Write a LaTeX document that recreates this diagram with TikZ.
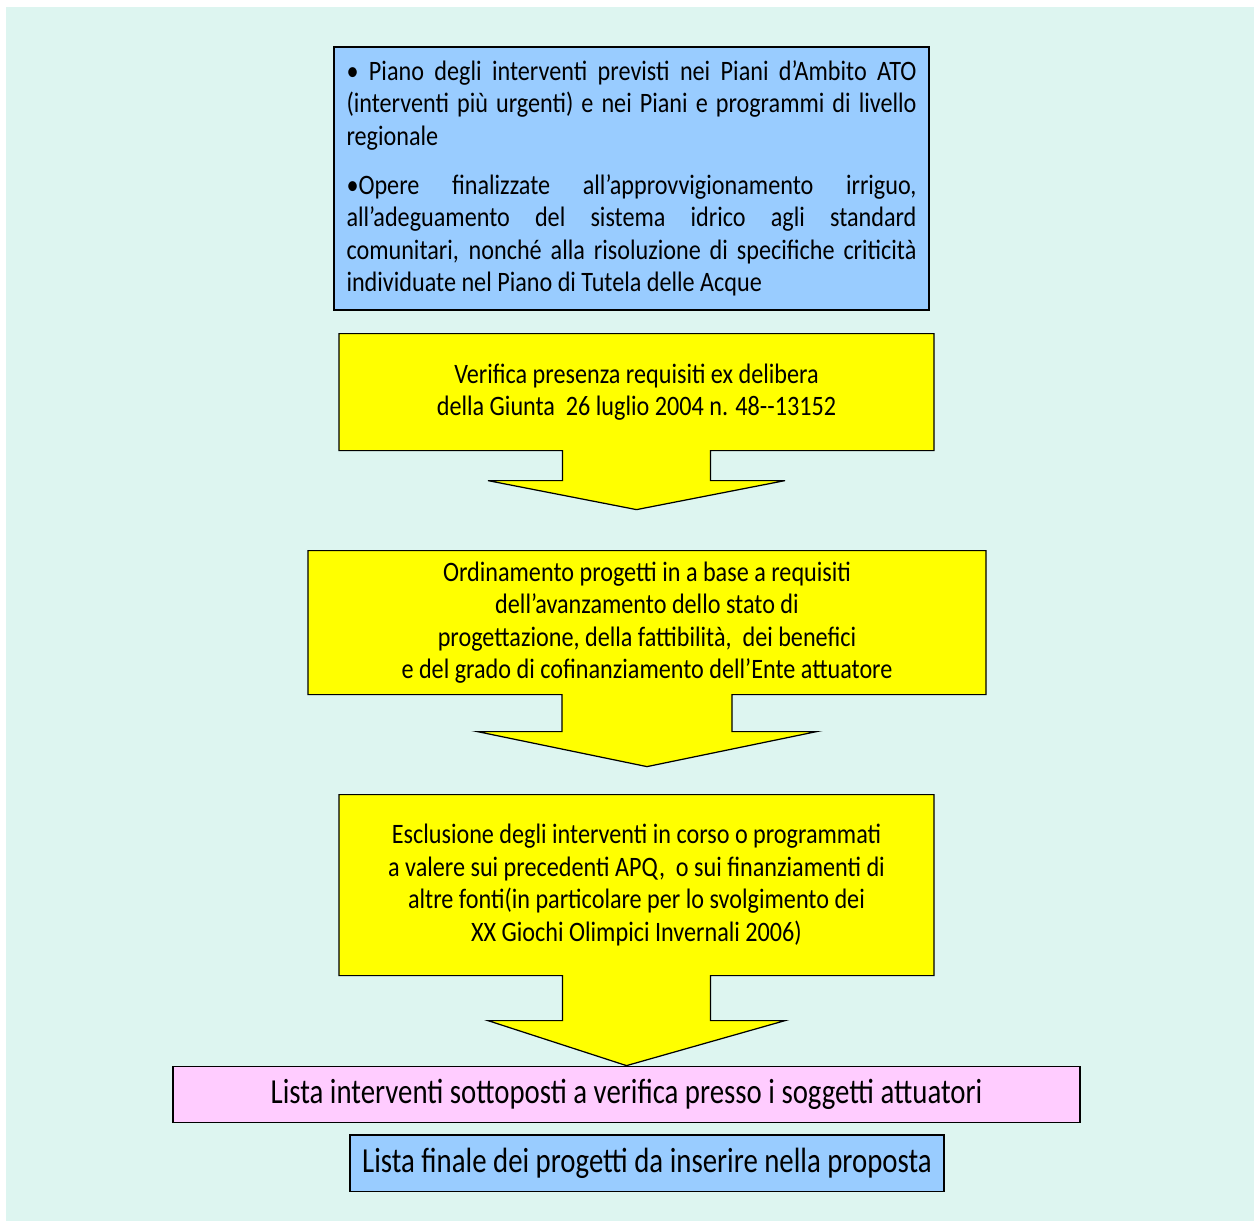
\documentclass[tikz,border=0pt]{standalone}
\usepackage{fontspec}
\setmainfont{Carlito}
\newfontfamily\boxfont{Carlito}[FakeStretch=0.86]
\newfontfamily\listfont{Carlito}[FakeStretch=0.82]
\usetikzlibrary{positioning, calc, backgrounds}
\definecolor{pagemint}{RGB}{221,245,240}
\definecolor{stepblue}{RGB}{153,204,255}
\definecolor{stepyellow}{RGB}{255,255,0}
\definecolor{steppink}{RGB}{255,204,255}

\begin{document}
\begin{tikzpicture}[
    sourcebox/.style={rectangle, draw=black, line width=0.7pt, fill=stepblue, minimum width=11.9cm, minimum height=5.26cm, text width=11.4cm, align=justify, inner sep=0pt, font=\boxfont\fontsize{16}{18.5}\selectfont},
    filterbox/.style={rectangle, inner sep=0pt, outer sep=0pt, align=center, font=\boxfont\fontsize{16}{18.5}\selectfont},
    filteroutline/.style={draw=black, line width=0.7pt, fill=stepyellow, line join=miter},
    listbox/.style={rectangle, draw=black, line width=0.7pt, minimum height=1.13cm, inner sep=0pt, align=center, font=\listfont\fontsize{20}{22}\selectfont}
]
\useasboundingbox (0,0) rectangle (25.08,-24.42);
\node[sourcebox] (plans) at (12.63,-3.57) {%
  • Piano degli interventi previsti nei Piani d’Ambito ATO\linebreak
  (interventi più urgenti) e nei Piani e programmi di livello\linebreak
  regionale\par\vspace{0.33cm}\noindent
  •Opere finalizzate all’approvvigionamento irriguo,\linebreak
  all’adeguamento del sistema idrico agli standard\linebreak
  comunitari, nonché alla risoluzione di specifiche criticità\linebreak
  individuate nel Piano di Tutela delle Acque};
\node[filterbox, minimum width=11.9cm, minimum height=2.34cm, below=0.46cm of plans, xshift=0.1cm] (check)
  {Verifica presenza requisiti ex delibera\\della Giunta~~26 luglio 2004 n. 48-{}-13152};
\node[filterbox, minimum width=13.56cm, minimum height=2.88cm, below=2cm of check, xshift=0.21cm] (ranking)
  {Ordinamento progetti in a base a requisiti\\dell’avanzamento dello stato di\\progettazione, della fattibilità,~~dei benefici\\e del grado di cofinanziamento dell’Ente attuatore};
\node[filterbox, minimum width=11.9cm, minimum height=3.62cm, text width=11.5cm, align=flush center, below=2cm of ranking, xshift=-0.21cm] (exclusion)
  {Esclusione degli interventi in corso o programmati\\a valere sui precedenti APQ,~~o sui finanziamenti di\\altre fonti(in particolare per lo svolgimento dei\\XX Giochi Olimpici Invernali 2006)\par\vspace*{0.52cm}};
\node[listbox, fill=steppink, minimum width=18.14cm, below=1.8cm of exclusion, xshift=-0.2cm] (verify)
  {Lista interventi sottoposti a verifica presso i soggetti attuatori};
\node[listbox, fill=stepblue, minimum width=11.88cm, below=0.22cm of verify, xshift=0.41cm] (final)
  {Lista finale dei progetti da inserire nella proposta};

\begin{pgfonlayer}{background}
\fill[pagemint] (0.12,-0.14) rectangle (25.08,-24.42);
% yellow steps with their block arrows
\draw[filteroutline] (check.north west) -- (check.north east) -- (check.south east)
  -- ($(check.south)+(1.48,0)$) -- ++(0,-0.6) -- ++(1.49,0) -- ($(check.south)+(0,-1.18)$)
  -- ($(check.south)+(-2.97,-0.6)$) -- ++(1.49,0) -- ($(check.south)+(-1.48,0)$)
  -- (check.south west) -- cycle;
\draw[filteroutline] (ranking.north west) -- (ranking.north east) -- (ranking.south east)
  -- ($(ranking.south)+(1.7,0)$) -- ++(0,-0.74) -- ++(1.69,0) -- ($(ranking.south)+(0,-1.44)$)
  -- ($(ranking.south)+(-3.39,-0.74)$) -- ++(1.69,0) -- ($(ranking.south)+(-1.7,0)$)
  -- (ranking.south west) -- cycle;
\draw[filteroutline] (exclusion.north west) -- (exclusion.north east) -- (exclusion.south east)
  -- ($(exclusion.south)+(1.48,0)$) -- ++(0,-0.9) -- ++(1.49,0) -- (verify.north)
  -- ($(exclusion.south)+(-2.97,-0.9)$) -- ++(1.49,0) -- ($(exclusion.south)+(-1.48,0)$)
  -- (exclusion.south west) -- cycle;
\end{pgfonlayer}
\end{tikzpicture}
\end{document}
